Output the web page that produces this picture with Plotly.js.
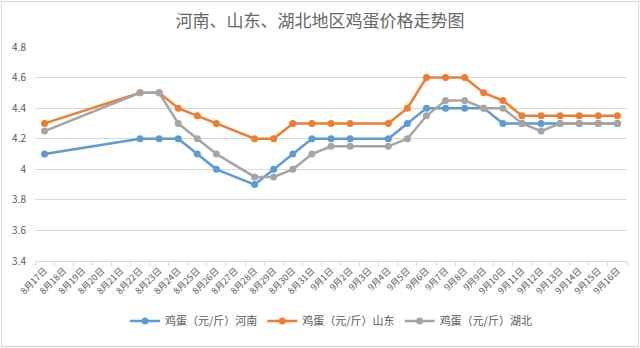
<!DOCTYPE html>
<html><head><meta charset="utf-8">
<script src="https://cdn.plot.ly/plotly-3.0.1.min.js"></script>
<style>
html,body{margin:0;padding:0;background:#fff;}
#chart{position:absolute;left:1px;top:1px;width:636px;height:344px;border:1px solid #d9d9d9;}
</style></head>
<body><div id="chart"></div>
<script>
const dates = ["8月17日","8月18日","8月19日","8月20日","8月21日","8月22日","8月23日","8月24日","8月25日","8月26日","8月27日","8月28日","8月29日","8月30日","8月31日","9月1日","9月2日","9月3日","9月4日","9月5日","9月6日","9月7日","9月8日","9月9日","9月10日","9月11日","9月12日","9月13日","9月14日","9月15日","9月16日"];
const henan = [4.1,null,null,null,null,4.2,4.2,4.2,4.1,4.0,null,3.9,4.0,4.1,4.2,4.2,4.2,null,4.2,4.3,4.4,4.4,4.4,4.4,4.3,4.3,4.3,4.3,4.3,4.3,4.3];
const shandong = [4.3,null,null,null,null,4.5,4.5,4.4,4.35,4.3,null,4.2,4.2,4.3,4.3,4.3,4.3,null,4.3,4.4,4.6,4.6,4.6,4.5,4.45,4.35,4.35,4.35,4.35,4.35,4.35];
const hubei = [4.25,null,null,null,null,4.5,4.5,4.3,4.2,4.1,null,3.95,3.95,4.0,4.1,4.15,4.15,null,4.15,4.2,4.35,4.45,4.45,4.4,4.4,4.3,4.25,4.3,4.3,4.3,4.3];
const names = ["鸡蛋（元/斤）河南","鸡蛋（元/斤）山东","鸡蛋（元/斤）湖北"];
const colors = ["#5B9BD5","#ED7D31","#A5A5A5"];
const series = [henan, shandong, hubei];

const traces = series.map((s,i)=>({
  x: dates, y: s, name: names[i], type:"scatter", mode:"lines+markers",
  connectgaps:true,
  line:{color:colors[i], width:2.5},
  marker:{color:colors[i], size:7}
}));

const font = "'Noto Sans CJK SC', 'Microsoft YaHei', sans-serif";
const layout = {
  width:636, height:344,
  margin:{l:33, r:11, t:45, b:77},
  paper_bgcolor:"#fff", plot_bgcolor:"#fff",
  font:{family:font, color:"#595959", size:10},
  title:{text:"河南、山东、湖北地区鸡蛋价格走势图", x:0.5, xanchor:"center", y:0.945, yanchor:"middle",
         font:{family:font, size:17, color:"#666666"}},
  showlegend:true,
  legend:{orientation:"h", x:0.5, xanchor:"center", y:-0.28, yanchor:"middle",
          font:{family:font, size:11, color:"#595959"}, itemwidth:30, tracegroupgap:0},
  xaxis:{type:"category", range:[-0.5,30.5], tickangle:-45, tickson:"boundaries",
         ticks:"outside", ticklen:4, tickcolor:"#d9d9d9", showline:true, linecolor:"#d9d9d9",
         showgrid:false, tickfont:{size:9, color:"#595959"}, fixedrange:true},
  yaxis:{range:[3.4,4.8], dtick:0.2, tick0:3.4, showgrid:true, gridcolor:"#d9d9d9",
         zeroline:false, showline:false, ticks:"", ticklabelstandoff:8,
         tickfont:{size:10, color:"#595959"}, fixedrange:true}
};
Plotly.newPlot("chart", traces, layout, {displayModeBar:false, staticPlot:true});
</script></body></html>
